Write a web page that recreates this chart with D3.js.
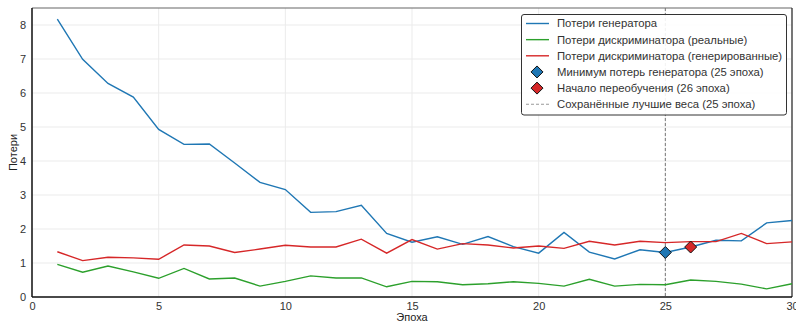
<!DOCTYPE html>
<html><head><meta charset="utf-8">
<script src="https://cdn.jsdelivr.net/npm/d3@7"></script>
<style>body{margin:0;background:#fff}svg{display:block;font-family:"Liberation Sans",Arial,sans-serif}</style>
</head><body><svg id="c" width="796" height="323"></svg>
<script>
const epochs = d3.range(1, 31);
const genLoss = [8.17,6.99,6.28,5.88,4.93,4.49,4.50,3.94,3.37,3.16,2.49,2.51,2.70,1.87,1.61,1.77,1.55,1.78,1.48,1.29,1.90,1.32,1.12,1.39,1.31,1.47,1.67,1.65,2.18,2.25];
const discReal = [0.96,0.73,0.91,0.74,0.55,0.84,0.53,0.56,0.32,0.46,0.62,0.56,0.56,0.30,0.46,0.45,0.36,0.39,0.45,0.40,0.32,0.52,0.32,0.37,0.36,0.50,0.46,0.38,0.24,0.39];
const discFake = [1.33,1.07,1.17,1.15,1.11,1.53,1.50,1.31,1.41,1.52,1.47,1.47,1.70,1.29,1.69,1.41,1.57,1.53,1.44,1.50,1.43,1.64,1.53,1.64,1.60,1.63,1.63,1.87,1.57,1.62];
const xTicks = [0,5,10,15,20,25,30];
const yTicks = [0,1,2,3,4,5,6,7,8];
const bestEpoch = 25, overfitEpoch = 26;
const legendLabels = ["Потери генератора","Потери дискриминатора (реальные)","Потери дискриминатора (генерированные)","Минимум потерь генератора (25 эпоха)","Начало переобучения (26 эпоха)","Сохранённые лучшие веса (25 эпоха)"];
const colors = {gen:"#1f77b4", real:"#2ca02c", fake:"#d62728"};

const svg = d3.select("#c");
const L=32, R=792, T=8, B=297;
const x = d3.scaleLinear().domain([0,30]).range([L,R]);
const y = d3.scaleLinear().domain([0,8.5]).range([B,T]);

const g = svg.append("g");
g.selectAll(".gx").data(xTicks).join("line").attr("x1",d=>x(d)).attr("x2",d=>x(d)).attr("y1",T).attr("y2",B).attr("stroke","#ebebeb").attr("stroke-width",1);
g.selectAll(".gy").data(yTicks).join("line").attr("y1",d=>y(d)).attr("y2",d=>y(d)).attr("x1",L).attr("x2",R).attr("stroke","#ebebeb").attr("stroke-width",1);

const xa = svg.append("g").attr("transform",`translate(0,${B})`).call(d3.axisBottom(x).tickValues(xTicks).tickSize(0).tickPadding(5).tickFormat(d3.format("d")));
const ya = svg.append("g").attr("transform",`translate(${L},0)`).call(d3.axisLeft(y).tickValues(yTicks).tickSize(0).tickPadding(6).tickFormat(d3.format("d")));
[xa,ya].forEach(a=>{a.select(".domain").remove();a.selectAll("text").attr("font-size",11).attr("fill","#333").attr("font-family","Liberation Sans, Arial, sans-serif");});

svg.append("line").attr("x1",L).attr("x2",R).attr("y1",T).attr("y2",T).attr("stroke","#666").attr("stroke-width",1.2);
svg.append("line").attr("x1",R).attr("x2",R).attr("y1",T).attr("y2",B).attr("stroke","#222").attr("stroke-width",1.2);
svg.append("line").attr("x1",L).attr("x2",L).attr("y1",T).attr("y2",B).attr("stroke","#111").attr("stroke-width",1.5);
svg.append("line").attr("x1",L).attr("x2",R).attr("y1",B).attr("y2",B).attr("stroke","#111").attr("stroke-width",1.5);

svg.append("line").attr("x1",x(bestEpoch)).attr("x2",x(bestEpoch)).attr("y1",T).attr("y2",B).attr("stroke","#777").attr("stroke-width",1).attr("stroke-dasharray","3,2");

const line = d3.line().x((d,i)=>x(epochs[i])).y(d=>y(d));
[[genLoss,colors.gen],[discReal,colors.real],[discFake,colors.fake]].forEach(([s,c])=>{
  svg.append("path").datum(s).attr("d",line).attr("fill","none").attr("stroke",c).attr("stroke-width",1.4);
});

function diamond(cx,cy,r,fill){
  svg.append("path").attr("d",`M${cx},${cy-r}L${cx+r},${cy}L${cx},${cy+r}L${cx-r},${cy}Z`).attr("fill",fill).attr("stroke","#111").attr("stroke-width",1);
}
diamond(x(bestEpoch), y(genLoss[bestEpoch-1]), 6, colors.gen);
diamond(x(overfitEpoch), y(genLoss[overfitEpoch-1]), 6, colors.fake);

const lg = svg.append("g");
lg.append("rect").attr("x",521.5).attr("y",14.5).attr("width",265).attr("height",100.5).attr("rx",2.5).attr("fill","#fff").attr("fill-opacity",0.9).attr("stroke","#333").attr("stroke-width",1);
legendLabels.forEach((t,i)=>{
  const cy = 23.5 + i*16.15;
  if(i<3){
    lg.append("line").attr("x1",526).attr("x2",549).attr("y1",cy).attr("y2",cy).attr("stroke",[colors.gen,colors.real,colors.fake][i]).attr("stroke-width",1.4);
  } else if(i<5){
    const cx=537, r=6;
    lg.append("path").attr("d",`M${cx},${cy-r}L${cx+r},${cy}L${cx},${cy+r}L${cx-r},${cy}Z`).attr("fill",i===3?colors.gen:colors.fake).attr("stroke","#111").attr("stroke-width",1);
  } else {
    lg.append("line").attr("x1",526).attr("x2",549).attr("y1",cy).attr("y2",cy).attr("stroke","#999").attr("stroke-width",1).attr("stroke-dasharray","3,2");
  }
  lg.append("text").attr("x",557).attr("y",cy).attr("dy","0.35em").attr("font-size",11.3).attr("fill","#333").text(t);
});

svg.append("text").attr("x",(L+R)/2).attr("y",321).attr("text-anchor","middle").attr("font-size",11).attr("fill","#222").text("Эпоха");
svg.append("text").attr("transform",`translate(13,${(T+B)/2}) rotate(-90)`).attr("text-anchor","middle").attr("dy","0.35em").attr("font-size",11).attr("fill","#222").text("Потери");
</script></body></html>
